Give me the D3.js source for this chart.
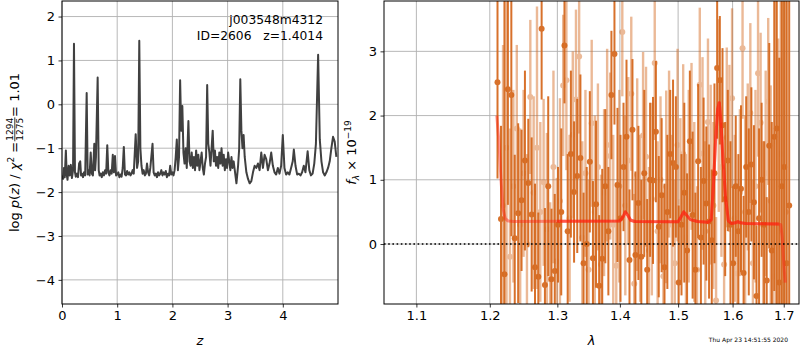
<!DOCTYPE html>
<html><head><meta charset="utf-8">
<script src="https://cdn.jsdelivr.net/npm/d3@7"></script>
<style>
html,body{margin:0;padding:0;background:#fff;}
svg{display:block;font-family:"DejaVu Sans",sans-serif;}
</style></head>
<body><svg id="c" width="800" height="350"></svg>
<script>
// ---------- DATA ----------
// Left panel: log p(z)
const zGrid = [0.00,0.02,0.035,0.05,0.07,0.085,0.10,0.12,0.14,0.16,0.18,0.20,0.217,0.235,0.25,0.27,0.29,0.31,0.33,0.345,0.36,0.38,0.40,0.42,0.447,0.465,0.48,0.50,0.52,0.54,0.56,0.585,0.60,0.615,0.646,0.665,0.68,0.70,0.72,0.74,0.76,0.78,0.80,0.82,0.84,0.86,0.88,0.90,0.92,0.94,0.96,0.98,1.00,1.02,1.04,1.06,1.08,1.10,1.12,1.14,1.16,1.18,1.20,1.22,1.24,1.26,1.28,1.30,1.335,1.36,1.38,1.40,1.42,1.44,1.46,1.48,1.50,1.52,1.54,1.56,1.58,1.60,1.64,1.66,1.68,1.70,1.72,1.74,1.76,1.78,1.80,1.82,1.84,1.86,1.88,1.90,1.92,1.94,1.96,1.98,2.00,2.02,2.04,2.06,2.08,2.10,2.12,2.14,2.16,2.18,2.20,2.22,2.24,2.26,2.29,2.31,2.33,2.35,2.37,2.39,2.41,2.43,2.45,2.47,2.49,2.51,2.53,2.55,2.57,2.59,2.61,2.63,2.65,2.67,2.69,2.71,2.73,2.75,2.77,2.79,2.81,2.83,2.85,2.87,2.89,2.91,2.93,2.95,2.97,2.99,3.01,3.03,3.05,3.07,3.09,3.11,3.13,3.16,3.19,3.21,3.23,3.25,3.27,3.29,3.31,3.34,3.37,3.40,3.43,3.46,3.49,3.52,3.55,3.58,3.61,3.64,3.67,3.70,3.73,3.76,3.79,3.82,3.85,3.88,3.91,3.94,3.97,4.00,4.03,4.06,4.09,4.12,4.15,4.18,4.20,4.23,4.26,4.29,4.32,4.35,4.38,4.41,4.45,4.48,4.51,4.54,4.57,4.60,4.64,4.67,4.70,4.73,4.76,4.79,4.82,4.85,4.88,4.91,4.94,4.97];
const logPz = [-1.62,-1.70,-1.45,-1.66,-1.05,-1.60,-1.72,-1.40,-1.62,-1.38,-1.68,-1.50,1.38,-1.55,-1.65,-1.58,-1.66,-1.35,-1.30,-1.62,-1.58,-1.66,-1.55,-1.62,0.26,-1.60,-1.50,-1.62,-1.10,-1.58,-1.62,-0.90,-1.50,-1.20,0.61,-1.50,-1.62,-1.58,-1.66,-1.55,-1.62,-1.50,-1.58,-0.93,-1.55,-1.62,-1.50,-1.58,-1.15,-1.55,-1.18,-1.62,-1.60,-1.55,-1.66,-1.60,-1.65,-1.45,-0.97,-1.60,-1.62,-1.52,-1.60,-1.55,-1.62,-1.58,-1.50,-1.58,-0.68,-1.45,-1.30,1.45,-1.00,-1.40,-1.58,-1.50,-1.62,-1.58,-1.35,-1.55,-1.62,-1.45,-0.90,-1.55,-1.62,-1.58,-1.66,-1.55,-1.62,-1.58,-1.50,-1.62,-1.55,-1.60,-1.52,-1.66,-1.58,-1.62,-1.40,-1.60,-1.55,-1.62,-1.50,-1.20,-0.80,-1.50,-1.20,0.55,-0.60,-0.04,-1.10,-1.35,-1.00,-1.45,-0.38,-1.30,-1.40,-1.10,-1.45,-1.20,-1.50,-1.05,-1.40,-1.15,-1.50,-1.30,-1.10,-1.45,-1.60,-1.35,-1.20,0.44,-0.90,-1.10,-1.40,-1.00,-0.60,-1.30,-1.05,-1.40,-1.20,-1.45,-1.10,-1.35,-1.00,-1.40,-1.15,-1.50,-1.25,-1.45,-1.10,-1.30,-1.50,-1.20,-1.45,-1.30,-1.50,-1.80,-1.40,-1.00,0.57,-0.60,-1.00,-0.70,-1.20,-1.55,-1.70,-1.80,-1.75,-1.55,-1.40,-1.45,-1.35,-1.50,-1.10,-1.45,-1.15,-1.25,-1.50,-1.35,-1.10,-1.40,-1.55,-1.60,-1.45,-1.58,-1.40,-0.70,-1.45,-1.60,-1.55,-1.60,-1.45,-1.30,-1.03,-1.40,-1.60,-1.58,-1.62,-1.55,-1.40,-1.55,-1.07,-1.50,-1.62,-1.58,-1.35,-0.90,1.13,-0.80,-1.30,-1.55,-1.62,-1.55,-1.45,-1.30,-1.00,-0.74,-0.85,-1.20];
const zTicks = [0,1,2,3,4];
const lpTicks = [-4,-3,-2,-1,0,1,2];

// Right panel: spectrum, beam A (dark) and beam B (light), units 1e-19
const waveA = [1.211,1.216,1.221,1.226,1.231,1.236,1.241,1.246,1.251,1.256,1.261,1.266,1.271,1.276,1.281,1.286,1.291,1.296,1.301,1.306,1.311,1.316,1.321,1.326,1.331,1.336,1.341,1.346,1.351,1.356,1.361,1.366,1.371,1.376,1.381,1.386,1.391,1.396,1.401,1.406,1.411,1.416,1.421,1.426,1.431,1.436,1.441,1.446,1.451,1.456,1.461,1.466,1.471,1.476,1.481,1.486,1.491,1.496,1.501,1.506,1.511,1.516,1.521,1.526,1.531,1.536,1.541,1.546,1.551,1.556,1.561,1.566,1.571,1.576,1.581,1.586,1.591,1.596,1.601,1.606,1.611,1.616,1.621,1.626,1.631,1.636,1.641,1.646,1.651,1.656,1.661,1.666,1.671,1.676,1.681,1.686,1.691,1.696,1.701,1.706,1.711];
const fluxA = [2.52,0.39,-0.47,2.41,2.32,0.09,0.48,0.68,1.3,0.95,0.46,-0.36,-0.51,3.35,-0.64,0.9,-0.55,-0.42,0.3,0.5,3.09,0.2,1.4,0.81,1.06,1.34,-0.3,0.0,1.28,-0.22,0.62,-0.65,-0.23,0.9,0.2,2.32,2.96,0.92,0.4,1.2,1.67,-0.25,1.78,-0.17,0.64,-0.2,1.1,-0.4,1.0,0.99,1.75,0.27,0.76,-0.36,0.5,1.4,1.26,1.2,-0.6,0.3,0.8,-0.1,1.6,0.45,-0.4,1.29,0.1,0.98,0.63,0.35,0.06,1.1,2.74,2.55,1.85,0.7,1.3,0.3,-0.3,0.9,0.2,0.86,-0.45,1.2,0.5,1.24,0.65,-0.81,0.4,1.0,0.3,-0.57,1.53,-0.1,1.67,1.8,-0.6,0.9,1.2,-0.3,0.6];
const errA = [1.5,1.45,4.6,1.8,2.2,1.3,1.4,1.1,1.4,1.0,1.2,1.3,1.0,1.1,1.2,1.4,1.1,1.2,0.9,1.3,0.9,1.2,1.3,1.1,1.2,1.3,1.1,1.2,1.1,1.2,1.3,1.1,1.4,1.2,1.0,1.0,1.1,1.2,1.3,1.0,1.2,1.1,1.1,1.3,1.2,1.2,1.3,1.1,1.2,1.3,1.1,1.1,1.2,1.3,1.2,1.0,1.3,1.1,1.2,1.1,1.4,1.2,1.1,1.3,1.2,1.2,1.1,1.3,1.2,1.2,1.1,1.4,1.1,1.0,1.2,1.2,1.1,1.3,1.2,1.1,1.2,1.3,1.2,1.1,1.3,1.2,1.2,1.1,1.4,1.2,1.3,1.3,1.6,2.0,2.4,3.0,3.5,4.0,4.5,5.0,5.0];
const waveB = [1.219,1.224,1.229,1.234,1.239,1.244,1.249,1.254,1.259,1.264,1.269,1.274,1.279,1.284,1.289,1.294,1.299,1.304,1.309,1.314,1.319,1.324,1.329,1.334,1.339,1.344,1.349,1.354,1.359,1.364,1.369,1.374,1.379,1.384,1.389,1.394,1.399,1.404,1.409,1.414,1.419,1.424,1.429,1.434,1.439,1.444,1.449,1.454,1.459,1.464,1.469,1.474,1.479,1.484,1.489,1.494,1.499,1.504,1.509,1.514,1.519,1.524,1.529,1.534,1.539,1.544,1.549,1.554,1.559,1.564,1.569,1.574,1.579,1.584,1.589,1.594,1.599,1.604,1.609,1.614,1.619,1.624,1.629,1.634,1.639,1.644,1.649,1.654,1.659,1.664,1.669,1.674,1.679,1.684,1.689,1.694,1.699,1.704];
const fluxB = [0.6,1.5,-0.2,0.9,1.8,0.3,1.1,0.0,2.29,0.8,1.5,0.5,0.96,0.23,-0.55,1.2,-0.27,0.67,2.47,2.55,0.4,1.70,2.25,2.92,0.1,1.1,-0.4,1.88,0.5,1.2,-0.32,0.8,1.54,1.37,0.3,-0.34,0.9,3.3,0.6,1.3,2.34,-0.62,1.08,0.4,1.69,1.36,-0.1,0.7,2.82,0.2,1.0,-0.5,0.89,1.4,0.3,-0.3,1.54,0.66,1.4,0.1,0.9,1.52,0.5,-0.4,2.48,1.41,0.2,1.9,1.08,0.6,-0.88,2.0,1.2,-0.32,1.66,1.49,2.27,0.4,-0.46,0.8,3.05,0.5,1.2,2.04,-0.3,0.9,2.66,1.89,0.3,1.1,2.22,0.67,-0.5,1.6,0.2,1.4,2.04,0.5];
const errB = [2.5,3.0,2.0,1.5,1.3,1.5,1.3,1.4,1.2,1.5,2.2,1.4,1.3,1.5,1.2,1.5,1.3,1.6,1.1,1.4,1.3,1.3,1.4,1.2,1.5,1.3,1.4,1.3,1.5,1.3,1.4,1.3,1.5,1.3,1.4,1.3,1.5,1.0,1.4,1.3,1.2,1.4,1.5,1.3,1.3,1.4,1.3,1.5,1.2,1.4,1.3,1.3,1.5,1.3,1.4,1.3,1.5,1.3,1.4,1.3,1.5,1.3,1.4,1.3,1.2,1.5,1.4,1.3,1.4,1.3,1.3,1.5,1.4,1.3,1.4,1.3,1.4,1.3,1.4,1.3,1.1,1.5,1.3,1.4,1.3,1.5,1.3,1.4,1.3,1.6,1.3,1.8,2.2,2.6,3.0,3.5,4.0,4.5];
// Best-fit model
const modelWave = [1.210,1.213,1.216,1.219,1.222,1.226,1.235,1.30,1.40,1.405,1.409,1.413,1.418,1.425,1.50,1.505,1.510,1.515,1.522,1.535,1.555,1.560,1.564,1.568,1.572,1.575,1.578,1.582,1.587,1.592,1.598,1.605,1.610,1.615,1.625,1.690,1.694,1.697,1.700,1.703];
const modelFlux = [2.0,1.6,1.0,0.55,0.40,0.36,0.35,0.355,0.36,0.42,0.50,0.45,0.37,0.35,0.345,0.42,0.50,0.45,0.38,0.35,0.34,0.38,0.9,1.6,2.1,2.2,1.9,1.3,0.7,0.36,0.32,0.33,0.35,0.33,0.32,0.31,0.30,0.1,-0.3,-0.6];
const modelBRange = [1.248,1.693];
const lamTicks = [1.1,1.2,1.3,1.4,1.5,1.6,1.7];
const fTicks = [0,1,2,3];
const objName = "j003548m4312";
const objInfo = "ID=2606   z=1.4014";
const stamp = "Thu Apr 23 14:51:55 2020";

// ---------- DRAW ----------
const svg = d3.select("#c");
const FONT = 13;
const L = {x0:62, x1:338, y0:1, y1:304};
const R = {x0:384, x1:799, y0:1, y1:304};
const zx = d3.scaleLinear().domain([0,5]).range([L.x0,L.x1]);
const zy = d3.scaleLinear().domain([-4.55,2.354]).range([L.y1,L.y0]);
const lx = d3.scaleLog().domain([1.0586,1.731]).range([R.x0,R.x1]);
const fy = d3.scaleLinear().domain([-0.934,3.784]).range([R.y1,R.y0]);

const defs = svg.append("defs");
defs.append("clipPath").attr("id","clipL").append("rect").attr("x",L.x0).attr("y",L.y0).attr("width",L.x1-L.x0).attr("height",L.y1-L.y0);
defs.append("clipPath").attr("id","clipR").append("rect").attr("x",R.x0).attr("y",R.y0).attr("width",R.x1-R.x0).attr("height",R.y1-R.y0);

function grid(g, xs, xt, ys, yt, B){
  g.selectAll(".gx").data(xt).enter().append("line")
    .attr("x1",d=>xs(d)).attr("x2",d=>xs(d)).attr("y1",B.y0).attr("y2",B.y1)
    .attr("stroke","#b0b0b0").attr("stroke-width",0.9);
  g.selectAll(".gy").data(yt).enter().append("line")
    .attr("x1",B.x0).attr("x2",B.x1).attr("y1",d=>ys(d)).attr("y2",d=>ys(d))
    .attr("stroke","#b0b0b0").attr("stroke-width",0.9);
}
function axes(xs, xt, xfmt, ys, yt, yfmt, B){
  const ax = svg.append("g").attr("transform",`translate(0,${B.y1})`)
    .call(d3.axisBottom(xs).tickValues(xt).tickFormat(xfmt).tickSize(3.5).tickPadding(3.5));
  const ay = svg.append("g").attr("transform",`translate(${B.x0},0)`)
    .call(d3.axisLeft(ys).tickValues(yt).tickFormat(yfmt).tickSize(3.5).tickPadding(3.5));
  [ax,ay].forEach(a=>{
    a.select(".domain").remove();
    a.selectAll("text").attr("font-size",FONT).attr("font-family","DejaVu Sans").attr("fill","#000");
    a.selectAll("line").attr("stroke","#000").attr("stroke-width",0.8);
  });
  svg.append("rect").attr("x",B.x0).attr("y",B.y0).attr("width",B.x1-B.x0).attr("height",B.y1-B.y0)
    .attr("fill","none").attr("stroke","#000").attr("stroke-width",1);
}

// Left panel
const gL = svg.append("g");
grid(gL, zx, zTicks, zy, lpTicks, L);
const pz = zGrid.map((z,i)=>[z,logPz[i]]);
gL.append("path").attr("clip-path","url(#clipL)").datum(pz)
  .attr("d", d3.line().x(d=>zx(d[0])).y(d=>zy(d[1])))
  .attr("fill","none").attr("stroke","#404040").attr("stroke-width",2).attr("stroke-linejoin","round");
axes(zx, zTicks, d3.format("d"), zy, lpTicks, d3.format("d"), L);
svg.append("text").attr("x",323).attr("y",24).attr("text-anchor","end").attr("font-size",12.3).text(objName);
svg.append("text").attr("x",323).attr("y",40).attr("text-anchor","end").attr("font-size",12.3)
  .attr("xml:space","preserve").style("white-space","pre").text(objInfo);

// Right panel
const gR = svg.append("g");
grid(gR, lx, lamTicks, fy, fTicks, R);
const cR = gR.append("g").attr("clip-path","url(#clipR)");
const orange = "#d5661a";
const specB = waveB.map((w,i)=>({w, f:fluxB[i], e:errB[i]}));
const specA = waveA.map((w,i)=>({w, f:fluxA[i], e:errA[i]}));
const gB = cR.append("g").attr("opacity",0.45);
gB.selectAll("line").data(specB).enter().append("line")
  .attr("x1",d=>lx(d.w)).attr("x2",d=>lx(d.w)).attr("y1",d=>fy(d.f-d.e)).attr("y2",d=>fy(d.f+d.e))
  .attr("stroke",orange).attr("stroke-width",2.4);
gB.selectAll("circle").data(specB).enter().append("circle")
  .attr("cx",d=>lx(d.w)).attr("cy",d=>fy(d.f)).attr("r",3).attr("fill",orange);
const gA = cR.append("g").attr("opacity",0.92);
gA.selectAll("line").data(specA).enter().append("line")
  .attr("x1",d=>lx(d.w)).attr("x2",d=>lx(d.w)).attr("y1",d=>fy(d.f-d.e)).attr("y2",d=>fy(d.f+d.e))
  .attr("stroke",orange).attr("stroke-width",2);
gA.selectAll("circle").data(specA).enter().append("circle")
  .attr("cx",d=>lx(d.w)).attr("cy",d=>fy(d.f)).attr("r",3).attr("fill",orange);
const model = modelWave.map((w,i)=>[w,modelFlux[i]]);
const mline = d3.line().x(d=>lx(d[0])).y(d=>fy(d[1]));
cR.append("path").datum(model).attr("d",mline).attr("fill","none")
  .attr("stroke","#ff2010").attr("stroke-width",3).attr("opacity",0.45).attr("stroke-linejoin","round");
cR.append("path").datum(model.filter(d=>d[0]>=modelBRange[0] && d[0]<=modelBRange[1])).attr("d",mline).attr("fill","none")
  .attr("stroke","#ff2010").attr("stroke-width",3).attr("opacity",0.55).attr("stroke-linejoin","round");
cR.append("line").attr("x1",R.x0).attr("x2",R.x1).attr("y1",fy(0)).attr("y2",fy(0))
  .attr("stroke","#000").attr("stroke-width",1.6).attr("stroke-dasharray","1.6,2.6");
axes(lx, lamTicks, d3.format(".1f"), fy, fTicks, d3.format("d"), R);

// Axis labels
svg.append("text").attr("x",(L.x0+L.x1)/2).attr("y",345).attr("text-anchor","middle")
  .attr("font-size",13).attr("font-style","italic").text("z");
svg.append("text").attr("x",(R.x0+R.x1)/2).attr("y",345).attr("text-anchor","middle")
  .attr("font-size",13).attr("font-style","italic").text("λ");
svg.append("text").attr("x",788).attr("y",342).attr("text-anchor","end").attr("font-size",6).text(stamp);

// Left y label: log p(z) / χ² = 1294/1275 = 1.01
(function(){
  const g = svg.append("g");
  const t1 = g.append("text").attr("font-size",13).attr("x",0).attr("y",0);
  t1.append("tspan").text("log ");
  t1.append("tspan").attr("font-style","italic").text("p");
  t1.append("tspan").text("(");
  t1.append("tspan").attr("font-style","italic").text("z");
  t1.append("tspan").text(") / ");
  t1.append("tspan").attr("font-style","italic").text("χ");
  t1.append("tspan").attr("font-size",9).attr("dy",-5).text("2");
  t1.append("tspan").attr("dy",5).text(" = ");
  const w1 = t1.node().getComputedTextLength();
  const num = g.append("text").attr("font-size",9).attr("x",w1+1).attr("y",-6.5).text("1294");
  const den = g.append("text").attr("font-size",9).attr("x",w1+1).attr("y",3.5).text("1275");
  const wf = Math.max(num.node().getComputedTextLength(), den.node().getComputedTextLength());
  g.append("line").attr("x1",w1+0.5).attr("x2",w1+wf+1.5).attr("y1",-4.2).attr("y2",-4.2).attr("stroke","#000").attr("stroke-width",0.8);
  const t3 = g.append("text").attr("font-size",13).attr("x",w1+wf+2).attr("y",0).text(" = 1.01");
  const w3 = t3.node().getComputedTextLength();
  const T = w1+wf+2+w3;
  g.attr("transform",`translate(19,${(L.y0+L.y1)/2 + T/2}) rotate(-90)`);
})();
// Right y label: f_λ × 10^-19
(function(){
  const g = svg.append("g");
  const t = g.append("text").attr("font-size",13).attr("x",0).attr("y",0);
  t.append("tspan").attr("font-style","italic").text("f");
  t.append("tspan").attr("font-style","italic").attr("font-size",9).attr("dy",3).text("λ");
  t.append("tspan").attr("dy",-3).text(" × 10");
  t.append("tspan").attr("font-size",9).attr("dy",-5).text("−19");
  const T = t.node().getComputedTextLength();
  g.attr("transform",`translate(356,${(R.y0+R.y1)/2 + T/2}) rotate(-90)`);
})();
</script></body></html>
